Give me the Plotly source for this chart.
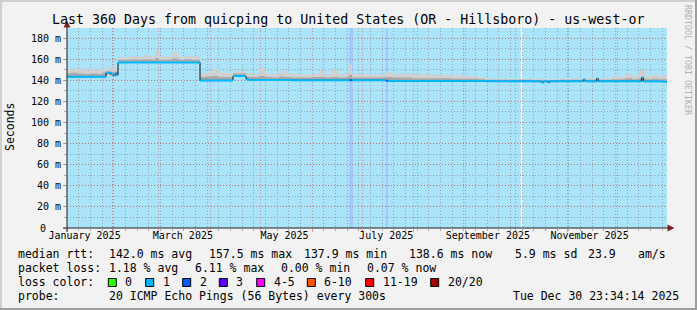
import plotly.graph_objects as go

W, H = 697, 310
L, R, T, B = 67, 30, 28, 82
FONT = "DejaVu Sans Mono"

# ---------------- data ----------------
x_start = "2025-01-04 23:34:14"
x_end = "2025-12-30 23:34:14"

smoke_dates = ["2025-01-03", "2025-01-07", "2025-01-11", "2025-01-15", "2025-01-19", "2025-01-23",
               "2025-01-26", "2025-01-28 10:00", "2025-01-31", "2025-02-04 14:00", "2025-02-08",
               "2025-02-12", "2025-02-16", "2025-02-20", "2025-02-24", "2025-02-27", "2025-03-01",
               "2025-03-05", "2025-03-09", "2025-03-13", "2025-03-17", "2025-03-21", "2025-03-25 19:00",
               "2025-03-29", "2025-04-02", "2025-04-06", "2025-04-10", "2025-04-14 14:00",
               "2025-04-22 10:00", "2025-04-26", "2025-04-30", "2025-05-04", "2025-05-08", "2025-05-12",
               "2025-05-16", "2025-05-20", "2025-05-24", "2025-05-28", "2025-06-01", "2025-06-05",
               "2025-06-09", "2025-06-13", "2025-06-17", "2025-06-21", "2025-06-23", "2025-06-25",
               "2025-06-29", "2025-07-03", "2025-07-07", "2025-07-11", "2025-07-15", "2025-07-19",
               "2025-07-23", "2025-07-27", "2025-07-31", "2025-08-04", "2025-08-08", "2025-08-12",
               "2025-08-16", "2025-08-20", "2025-08-24", "2025-08-28", "2025-09-01", "2025-09-05",
               "2025-09-09", "2025-09-13", "2025-09-17", "2025-09-25", "2025-10-03", "2025-10-11",
               "2025-10-19", "2025-10-27", "2025-11-04", "2025-11-12", "2025-11-20", "2025-11-28",
               "2025-12-02", "2025-12-06", "2025-12-10", "2025-12-14", "2025-12-18", "2025-12-22",
               "2025-12-26", "2025-12-31"]
smoke_lo = [143.3, 143.3, 143.3, 143.3, 143.3, 143.3, 143.3, 145.5, 144.5, 156.8, 156.8, 156.8,
            156.8, 156.8, 156.8, 156.8, 156.8, 156.8, 156.8, 156.8, 156.8, 156.8, 139.8, 139.8,
            139.8, 139.8, 139.8, 144.0, 140.2, 140.2, 140.2, 140.2, 140.2, 140.2, 140.2, 140.2,
            140.0, 140.0, 140.0, 140.0, 140.0, 140.0, 140.0, 140.0, 140.0, 140.0, 140.0, 140.0,
            140.0, 140.0, 139.4, 139.4, 139.4, 139.4, 139.4, 139.4, 139.4, 139.4, 139.4, 139.4,
            139.4, 139.4, 139.4, 139.4, 139.2, 139.0, 139.0, 139.0, 139.0, 138.0, 138.0, 139.0,
            139.0, 139.0, 139.0, 139.0, 139.0, 139.0, 139.0, 139.0, 139.0, 139.0, 139.0, 139.0]
smoke_mid = [146.5, 147.0, 146.5, 146.0, 146.5, 146.0, 147.0, 148.5, 148.0, 159.5, 159.5, 160.0,
             159.5, 160.0, 159.5, 161.0, 159.5, 159.5, 160.5, 159.5, 160.0, 159.5, 143.0, 143.5,
             144.0, 143.0, 143.0, 146.5, 143.0, 143.0, 144.0, 143.0, 142.5, 143.5, 143.0, 142.5,
             142.5, 142.5, 143.0, 143.0, 142.5, 143.0, 142.5, 143.0, 145.0, 142.5, 142.5, 142.5,
             142.5, 142.5, 143.0, 142.5, 142.5, 142.5, 142.0, 142.0, 142.0, 142.0, 142.0, 142.0,
             141.5, 141.5, 141.5, 141.5, 141.0, 140.5, 140.5, 140.5, 140.5, 140.0, 140.0, 140.5,
             140.5, 140.5, 140.5, 141.0, 141.0, 142.0, 141.0, 142.0, 141.0, 141.5, 141.0, 141.0]
smoke_hi = [149.5, 151.0, 151.5, 150.0, 150.5, 150.0, 150.5, 151.5, 152.0, 161.5, 162.0, 163.0,
            162.0, 164.0, 162.5, 169.0, 162.5, 162.0, 166.5, 162.0, 163.0, 163.0, 146.5, 147.0,
            150.5, 148.0, 146.5, 148.5, 146.5, 146.0, 151.5, 146.5, 146.0, 149.0, 146.5, 146.0,
            145.5, 145.5, 146.0, 149.5, 145.5, 149.5, 145.5, 147.0, 156.0, 146.0, 145.5, 145.0,
            145.5, 145.5, 147.5, 146.5, 146.5, 146.0, 146.0, 146.0, 145.5, 145.5, 145.0, 145.0,
            145.0, 144.5, 144.0, 143.5, 143.0, 141.5, 141.5, 141.5, 141.5, 141.5, 141.0, 141.5,
            141.5, 142.0, 142.0, 144.0, 143.5, 146.5, 144.0, 149.5, 144.0, 145.0, 144.5, 144.5]

median_dates = ["2025-01-03", "2025-01-28 10:00", "2025-01-31 06:00", "2025-02-01 18:00",
                "2025-02-03 06:00", "2025-02-04 00:00", "2025-02-04 14:00", "2025-03-25 19:00",
                "2025-04-14 14:00", "2025-04-22 10:00", "2025-04-24 00:00", "2025-05-20 00:00",
                "2025-06-23 12:00", "2025-06-25 00:00", "2025-07-15 10:00", "2025-07-16 10:00",
                "2025-09-14 00:00", "2025-10-04 10:00", "2025-10-05 00:00", "2025-10-16 18:00",
                "2025-10-18 00:00", "2025-10-20 12:00", "2025-10-21 12:00", "2025-11-10 18:00",
                "2025-11-11 18:00", "2025-11-18 18:00", "2025-11-19 18:00", "2025-12-15 18:00",
                "2025-12-16 18:00", "2025-12-29 00:00", "2025-12-31 00:00"]
median_vals = [143.3, 147.1, 145.8, 144.5, 146.5, 144.8, 156.8, 139.8, 144.0, 141.0, 140.2, 140.0,
               140.0, 140.0, 139.6, 139.4, 139.0, 139.0, 139.0, 137.9, 139.0, 138.0, 139.0, 140.6,
               139.0, 141.6, 139.0, 142.5, 138.9, 138.6, 138.6]
median_loss = [1, 1, 1, 1, 1, 1, 1, 1, 1, 1, 1, 1, 2, 1, 2, 1, 1, 0, 1, 1, 1, 1, 1, 1, 1, 1, 1, 1,
               1, 1, 1]

bg_start = ["2025-06-23 12:00", "2025-07-15 08:00", "2025-10-04 06:00"]
bg_end = ["2025-06-25 12:00", "2025-07-16 12:00", "2025-10-05 06:00"]
bg_loss = [2, 2, -1]

loss_labels = ["0", "1", "2", "3", "4-5", "6-10", "11-19", "20/20"]
loss_colors = ["#26ff00", "#00b8ff", "#0059ff", "#5e00ff", "#ff00ff", "#ff5500", "#ff0000", "#a10000"]

y_tickvals = [20, 40, 60, 80, 100, 120, 140, 160, 180]
y_ticktext = ["20 m", "40 m", "60 m", "80 m", "100 m", "120 m", "140 m", "160 m", "180 m"]
y_zero_label = "0"
x_label_dates = ["2025-01-15 12:00", "2025-03-15 12:00", "2025-05-15 12:00",
                 "2025-07-15 12:00", "2025-09-14 12:00", "2025-11-14 12:00"]
x_label_text = ["January 2025", "March 2025", "May 2025", "July 2025", "September 2025", "November 2025"]

title_text = "Last 360 Days from quicping to United States (OR - Hillsboro) - us-west-or"
stats_rtt = ["median rtt:", "142.0 ms avg", "157.5 ms max", "137.9 ms min", "138.6 ms now",
             "5.9 ms sd", "23.9", "am/s"]
stats_loss = ["packet loss:", "1.18 % avg", "6.11 % max", "0.00 % min", "0.07 % now"]
probe_text = ["probe:", "20 ICMP Echo Pings (56 Bytes) every 300s", "Tue Dec 30 23:34:14 2025"]

# ---------------- styling ----------------
CANVAS = "#a9e4fb"
BACK = "#f2f2f2"
SHADEA = "#cfcfcf"
SHADEB = "#9e9e9e"
GRID = "rgba(143,143,143,0.75)"
MGRID = "rgba(222,79,79,0.6)"
ARROW = "#801f1f"
AXIS = "#1f1f1f"


def px(x):
    return (x - L) / (W - L - R)


def py(y):
    return 1 - (y - T) / (H - T - B)


def blend(hexc, a):
    r, g, b = int(hexc[1:3], 16), int(hexc[3:5], 16), int(hexc[5:7], 16)
    return "rgb(%d,%d,%d)" % (255 - a * (255 - r), 255 - a * (255 - g), 255 - a * (255 - b))


fig = go.Figure()

# smoke bands
fig.add_trace(go.Scatter(x=smoke_dates, y=smoke_lo, mode="lines", line=dict(width=0, shape="hv"),
                         showlegend=False, hoverinfo="skip"))
fig.add_trace(go.Scatter(x=smoke_dates, y=smoke_hi, mode="lines", line=dict(width=0, shape="hv"),
                         fill="tonexty", fillcolor="#d0d0d0", showlegend=False, hoverinfo="skip"))
fig.add_trace(go.Scatter(x=smoke_dates, y=smoke_lo, mode="lines", line=dict(width=0, shape="hv"),
                         showlegend=False, hoverinfo="skip"))
fig.add_trace(go.Scatter(x=smoke_dates, y=smoke_mid, mode="lines", line=dict(width=0, shape="hv"),
                         fill="tonexty", fillcolor="#a8a8a8", showlegend=False, hoverinfo="skip"))

# median: black connector then loss-coloured segments
fig.add_trace(go.Scatter(x=median_dates, y=median_vals, mode="lines",
                         line=dict(color="#111111", width=1, shape="hv"),
                         showlegend=False, hoverinfo="skip"))
for li, col in enumerate(loss_colors):
    xs, ys = [], []
    for i in range(len(median_dates) - 1):
        if median_loss[i] == li:
            xs += [median_dates[i], median_dates[i + 1], None]
            ys += [median_vals[i], median_vals[i], None]
    if xs:
        fig.add_trace(go.Scatter(x=xs, y=ys, mode="lines", line=dict(color=col, width=2),
                                 showlegend=False, hoverinfo="skip"))

# invisible trace for label axis
fig.add_trace(go.Scatter(x=[x_start, x_end], y=[None, None], xaxis="x2", mode="lines",
                         showlegend=False, hoverinfo="skip"))

shapes = []
for s, e, lc in zip(bg_start, bg_end, bg_loss):
    col = "#ffffff" if lc < 0 else blend(loss_colors[lc], 0.35)
    shapes.append(dict(type="rect", xref="x", yref="paper", x0=s, x1=e, y0=0, y1=1,
                       fillcolor=col, line=dict(width=0), layer="below"))

# frame
shapes += [
    dict(type="rect", xref="paper", yref="paper", x0=px(0), x1=px(W), y0=py(0), y1=py(2),
         fillcolor=SHADEA, line=dict(width=0), layer="below"),
    dict(type="rect", xref="paper", yref="paper", x0=px(0), x1=px(2), y0=py(0), y1=py(H),
         fillcolor=SHADEA, line=dict(width=0), layer="below"),
    dict(type="rect", xref="paper", yref="paper", x0=px(0), x1=px(W), y0=py(H - 2), y1=py(H),
         fillcolor=SHADEB, line=dict(width=0), layer="below"),
    dict(type="rect", xref="paper", yref="paper", x0=px(W - 2), x1=px(W), y0=py(0), y1=py(H),
         fillcolor=SHADEB, line=dict(width=0), layer="below"),
]
# axes lines and arrows
shapes += [
    dict(type="line", xref="paper", yref="paper", x0=px(63), x1=px(670), y0=py(228), y1=py(228),
         line=dict(color=AXIS, width=1), layer="above"),
    dict(type="line", xref="paper", yref="paper", x0=px(67), x1=px(67), y0=py(232), y1=py(24),
         line=dict(color=AXIS, width=1), layer="above"),
    dict(type="path", xref="paper", yref="paper",
         path="M %f %f L %f %f L %f %f Z" % (px(67), py(20.5), px(63.5), py(27.5), px(70.5), py(27.5)),
         fillcolor=ARROW, line=dict(width=0), layer="above"),
    dict(type="path", xref="paper", yref="paper",
         path="M %f %f L %f %f L %f %f Z" % (px(674.5), py(228), px(667.5), py(224.5), px(667.5), py(231.5)),
         fillcolor=ARROW, line=dict(width=0), layer="above"),
]

ann = []


def text(x, y, s, size=11.5, anchor="left", color="#000000", angle=0, yref="paper"):
    ann.append(dict(xref="paper", yref=yref, x=px(x), y=py(y) if yref == "paper" else y, text=s,
                    showarrow=False, xanchor=anchor, yanchor="middle", textangle=angle,
                    font=dict(family=FONT, size=size, color=color)))


text(347.5, 19, title_text, size=13.3, anchor="center")
text(10, 127, "Seconds", size=11.5, anchor="center", angle=-90)
text(688, 60, "RRDTOOL / TOBI OETIKER", size=8.3, anchor="center", color="#b0b0b0", angle=90)
# zero label of the value axis, placed at value 0 on the y scale
text(47.5, 0, y_zero_label, size=10, anchor="right", yref="y")

rtt_x = [16, 107, 207, 302, 407, 513, 586, 636]
for s, x in zip(stats_rtt, rtt_x):
    text(x, 254.3, s)
loss_x = [16, 107, 193, 279, 365]
for s, x in zip(stats_loss, loss_x):
    text(x, 268.3, s)
text(16, 282.3, "loss color:")
box_x = [108.3, 145.7, 182.7, 219.3, 256.7, 307.3, 365.7, 430.7]
for lab, col, bx in zip(loss_labels, loss_colors, box_x):
    shapes.append(dict(type="rect", xref="paper", yref="paper", x0=px(bx), x1=px(bx + 8),
                       y0=py(278.5), y1=py(286.5), fillcolor=col, line=dict(color="#000000", width=1)))
    text(bx + 15, 282.3, lab)
text(16, 296, probe_text[0])
text(107, 296, probe_text[1])
text(680.5, 296, probe_text[2], anchor="right")

fig.update_layout(
    width=W, height=H, margin=dict(l=L, r=R, t=T, b=B, pad=0),
    paper_bgcolor=BACK, plot_bgcolor=CANVAS, showlegend=False,
    shapes=shapes, annotations=ann,
    xaxis=dict(type="date", range=[x_start, x_end], dtick="M1", tick0="2025-01-01",
               showticklabels=False, ticks="outside", ticklen=3, tickcolor=MGRID,
               showgrid=True, gridcolor=MGRID, griddash="1px,2px", gridwidth=1,
               zeroline=False, showline=False,
               minor=dict(dtick=7 * 86400000, tick0="2025-01-05", showgrid=True, gridcolor=GRID,
                          griddash="1px,2px", ticks="outside", ticklen=2, tickcolor=GRID)),
    xaxis2=dict(type="date", range=[x_start, x_end], overlaying="x", anchor="y", side="bottom",
                tickmode="array", tickvals=x_label_dates, ticktext=x_label_text,
                showgrid=False, ticks="", zeroline=False, showline=False,
                tickfont=dict(family=FONT, size=10, color="#000000")),
    yaxis=dict(range=[0, 189.5], tickmode="array", tickvals=y_tickvals, ticktext=y_ticktext,
               showgrid=True, gridcolor=MGRID, griddash="1px,2px", ticks="outside", ticklen=3,
               tickcolor=GRID, zeroline=False, showline=False,
               tickfont=dict(family=FONT, size=10, color="#000000"),
               minor=dict(dtick=10, tick0=0, showgrid=True, gridcolor=GRID, griddash="1px,2px",
                          ticks="outside", ticklen=2, tickcolor=GRID)),
)

fig.write_html("out.html")
